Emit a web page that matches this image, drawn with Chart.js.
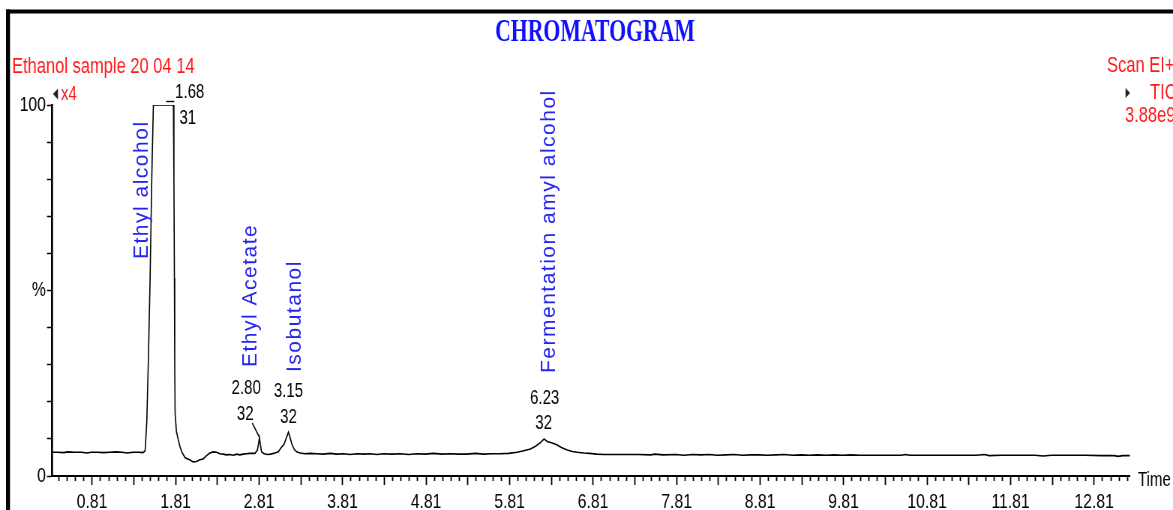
<!DOCTYPE html>
<html>
<head>
<meta charset="utf-8">
<script src="https://cdn.jsdelivr.net/npm/chart.js@4.4.1/dist/chart.umd.min.js"></script>
<style>
  html, body { margin: 0; padding: 0; background: #fff; }
  canvas { display: block; }
</style>
</head>
<body>
<canvas id="c"></canvas>
<script>
// ---------------- DATA ----------------
const retentionTimes = [
  0.33, 0.40, 0.47, 0.52, 0.60, 0.68, 0.75, 0.80, 0.88, 0.95, 1.02, 1.10, 1.17, 1.23, 1.30, 1.37, 1.42,
  1.445, 1.465, 1.485, 1.505, 1.525, 1.544, 1.60, 1.66, 1.72, 1.784, 1.790, 1.796, 1.800, 1.804, 1.82,
  1.843, 1.864, 1.884, 1.924, 1.984, 2.02, 2.06, 2.10, 2.14, 2.18, 2.22, 2.26, 2.30, 2.34, 2.38, 2.42,
  2.46, 2.50, 2.54, 2.58, 2.62, 2.66, 2.70, 2.76, 2.79, 2.805, 2.814, 2.825, 2.84, 2.87, 2.91, 2.95,
  3.00, 3.04, 3.08, 3.11, 3.14, 3.161, 3.18, 3.20, 3.23, 3.26, 3.30, 3.36, 3.42, 3.50, 3.58, 3.66,
  3.74, 3.82, 3.90, 3.98, 4.06, 4.14, 4.22, 4.30, 4.40, 4.50, 4.60, 4.70, 4.80, 4.90, 5.00, 5.10,
  5.20, 5.30, 5.40, 5.50, 5.60, 5.70, 5.80, 5.90, 5.98, 6.06, 6.12, 6.18, 6.223, 6.26, 6.32, 6.375,
  6.43, 6.50, 6.56, 6.62, 6.70, 6.77, 6.85, 6.95, 7.05, 7.20, 7.35, 7.50, 7.55, 7.65, 7.80, 7.90,
  8.00, 8.10, 8.20, 8.30, 8.40, 8.50, 8.60, 8.70, 8.80, 8.90, 9.00, 9.10, 9.20, 9.30, 9.40, 9.50,
  9.60, 9.70, 9.80, 9.90, 10.00, 10.10, 10.20, 10.30, 10.40, 10.50, 10.55, 10.60, 10.80, 11.00, 11.20, 11.40,
  11.50, 11.55, 11.70, 11.90, 12.10, 12.20, 12.30, 12.50, 12.70, 12.90, 13.05, 13.10, 13.15, 13.24
];
const relativeAbundance = [
  6.4, 6.4, 6.3, 6.5, 6.4, 6.4, 6.2, 6.4, 6.4, 6.3, 6.4, 6.5, 6.4, 6.2, 6.4, 6.4, 6.3,
  6.8, 14.6, 32.0, 53.4, 80.3, 100, 100, 100, 100, 100, 80.0, 53.4, 30.0, 17.0, 12.0,
  9.7, 7.8, 6.5, 4.9, 4.3, 3.8, 3.9, 4.4, 4.6, 5.5, 6.2, 6.5, 6.4, 6.0, 5.9, 5.7,
  5.8, 5.6, 5.9, 5.7, 5.9, 6.0, 6.1, 6.1, 7.0, 9.0, 10.3, 8.5, 6.5, 6.0, 5.8, 5.9,
  6.2, 6.5, 7.8, 8.6, 10.5, 11.8, 10.5, 8.8, 7.2, 6.5, 6.2, 6.0, 6.1, 6.0, 5.9, 6.1,
  5.9, 6.0, 5.8, 6.0, 5.9, 6.0, 5.8, 6.0, 5.9, 6.0, 5.8, 6.0, 5.9, 6.1, 5.9, 6.0,
  5.9, 5.9, 6.1, 5.9, 6.0, 6.0, 6.1, 6.4, 6.8, 7.3, 8.0, 9.0, 10.0, 9.3, 8.9, 8.4,
  7.7, 7.0, 6.6, 6.4, 6.2, 6.1, 5.9, 5.8, 5.8, 5.8, 5.8, 5.7, 5.9, 5.7, 5.8, 5.6,
  5.8, 5.7, 5.8, 5.6, 5.7, 5.8, 5.6, 5.7, 5.7, 5.6, 5.7, 5.8, 5.6, 5.7, 5.6, 5.7,
  5.6, 5.7, 5.6, 5.7, 5.6, 5.6, 5.6, 5.6, 5.6, 5.6, 5.8, 5.6, 5.6, 5.6, 5.6, 5.6,
  5.8, 5.5, 5.6, 5.6, 5.6, 5.4, 5.6, 5.6, 5.6, 5.5, 5.5, 5.3, 5.5, 5.5
];
const xTickLabels = ['0.81','1.81','2.81','3.81','4.81','5.81','6.81','7.81','8.81','9.81','10.81','11.81','12.81'];
const yTickLabels = { 0: '0', 50: '%', 100: '100' };
const peakTimes = [1.68, 2.80, 3.15, 6.23];
const peakTimeLabels = ['1.68', '2.80', '3.15', '6.23'];
const peakScanLabels = ['31', '32', '32', '32'];
const compoundNames = ['Ethyl alcohol', 'Ethyl Acetate', 'Isobutanol', 'Fermentation amyl alcohol'];

// ---------------- LAYOUT (final pixel units) ----------------
const SX = 0.75;                 // horizontal condensing of the whole drawing
const W = Math.round(1173 / SX); // internal canvas width
const H = 510;
const PLOT = { left: 52, right: 1130, top: 105, bottom: 476 };
const X_MIN = 0.33, X_MAX = 13.24;
const PEAK_TEXT_LAYOUT = [
  { dx: 25, y1: 92, dx2: 23, y2: 118 },
  { dx: -12, y1: 388, dx2: -13, y2: 414 },
  { dx: 1, y1: 391, dx2: 1, y2: 417 },
  { dx: 0, y1: 398, dx2: -1, y2: 423 }
];
const NAME_LAYOUT = [
  { t: 1.48, bottom: 259 },
  { t: 2.78, bottom: 367 },
  { t: 3.31, bottom: 372 },
  { t: 6.35, bottom: 373 }
];
const SANS = '"Liberation Sans", Arial, Helvetica, sans-serif';
const BLUE = '#2525ee';
const RED = '#ff1a1a';

const canvas = document.getElementById('c');
canvas.width = W; canvas.height = H;
canvas.style.width = '1173px'; canvas.style.height = H + 'px';

const F = v => v / SX; // final x -> canvas x

const decorPlugin = {
  id: 'decor',
  afterDraw(chart) {
    const ctx = chart.ctx;
    const xs = chart.scales.x;
    const X = t => xs.getPixelForValue(t);
    ctx.save();
    // frame
    ctx.fillStyle = '#000';
    ctx.fillRect(F(6), 9.5, F(4), H);
    ctx.fillRect(F(6), 9.5, W, 4);

    // title
    ctx.save();
    ctx.font = 'bold 29px "Liberation Serif", "Times New Roman", serif';
    ctx.fillStyle = '#1010ff';
    ctx.textAlign = 'center';
    ctx.textBaseline = 'middle';
    ctx.translate(F(595), 33);
    ctx.scale(1, 1.12);
    ctx.fillText('CHROMATOGRAM', 0, 0);
    ctx.restore();

    // red header texts
    ctx.fillStyle = RED;
    ctx.textBaseline = 'middle';
    ctx.textAlign = 'left';
    ctx.font = '22px ' + SANS;
    ctx.fillText('Ethanol sample 20 04 14', F(12), 67);
    ctx.fillText('Scan EI+', F(1107), 66);
    ctx.fillText('TIC', F(1150), 93);
    ctx.fillText('3.88e9', F(1125), 116);
    ctx.font = '20px ' + SANS;
    ctx.fillText('x4', F(61), 94);

    // small triangles
    ctx.fillStyle = '#222';
    ctx.beginPath();
    ctx.moveTo(F(53), 94); ctx.lineTo(F(58), 88.5); ctx.lineTo(F(58), 99.5); ctx.closePath(); ctx.fill();
    ctx.beginPath();
    ctx.moveTo(F(1130), 93); ctx.lineTo(F(1125.5), 88); ctx.lineTo(F(1125.5), 98); ctx.closePath(); ctx.fill();

    // "Time"
    ctx.fillStyle = '#000';
    ctx.font = '20px ' + SANS;
    ctx.fillText('Time', F(1138), 480);

    // peak labels
    ctx.textAlign = 'center';
    ctx.font = '20px ' + SANS;
    peakTimes.forEach((t, i) => {
      const L = PEAK_TEXT_LAYOUT[i];
      const px = X(t);
      ctx.fillText(peakTimeLabels[i], px + F(L.dx), L.y1);
      ctx.fillText(peakScanLabels[i], px + F(L.dx2), L.y2);
    });
    // leader marks
    ctx.strokeStyle = '#000';
    ctx.lineWidth = 1.4;
    const p0 = X(peakTimes[0]);
    ctx.beginPath(); ctx.moveTo(p0 + F(1.5), 101.5); ctx.lineTo(p0 + F(9.5), 101.5); ctx.stroke();
    const p1 = X(peakTimes[1]);
    ctx.beginPath(); ctx.moveTo(p1 - F(6), 423); ctx.lineTo(p1 + F(1), 437); ctx.stroke();

    // compound names (vertical, not condensed)
    ctx.fillStyle = BLUE;
    ctx.font = '21px ' + SANS;
    ctx.textAlign = 'left';
    ctx.textBaseline = 'alphabetic';
    try { ctx.letterSpacing = '1.5px'; } catch (e) {}
    compoundNames.forEach((name, i) => {
      const L = NAME_LAYOUT[i];
      ctx.save();
      ctx.translate(X(L.t), L.bottom);
      ctx.scale(1 / SX, 1);
      ctx.rotate(-Math.PI / 2);
      ctx.fillText(name, 0, 0);
      ctx.restore();
    });
    try { ctx.letterSpacing = '0px'; } catch (e) {}
    ctx.restore();
  }
};

const points = retentionTimes.map((t, i) => ({ x: t, y: relativeAbundance[i] }));

new Chart(canvas, {
  type: 'line',
  data: {
    datasets: [{
      data: points,
      borderColor: '#000',
      borderWidth: 1.6,
      pointRadius: 0,
      tension: 0,
      fill: false
    }]
  },
  options: {
    responsive: false,
    animation: false,
    devicePixelRatio: 1,
    layout: { padding: { left: 0, top: PLOT.top, right: W - F(PLOT.right), bottom: 0 } },
    plugins: { legend: { display: false }, title: { display: false }, tooltip: { enabled: false } },
    scales: {
      x: {
        type: 'linear',
        min: X_MIN, max: X_MAX,
        afterFit(s) { s.height = H - PLOT.bottom; },
        afterBuildTicks(s) {
          const ticks = [];
          for (let k = 1; ; k++) {
            const v = Math.round((0.31 + 0.1 * k) * 100) / 100;
            if (v > X_MAX) break;
            ticks.push({ value: v });
          }
          s.ticks = ticks;
        },
        border: { display: true, color: '#000', width: 2 },
        grid: {
          drawOnChartArea: false,
          drawTicks: true,
          tickLength: 9,
          tickColor: '#000',
          tickWidth: 1.8,
          tickBorderDash: (c) => {
            const v = c.tick ? c.tick.value : 0;
            const k = Math.round((v - 0.31) * 10);
            return (k % 5 === 0) ? [] : [4, 30];
          }
        },
        ticks: {
          autoSkip: false,
          maxRotation: 0,
          padding: 5,
          color: '#000',
          font: { family: SANS, size: 21 },
          callback: (v) => {
            const s = Number(v).toFixed(2);
            return xTickLabels.includes(s) ? s : '';
          }
        }
      },
      y: {
        min: 0, max: 100,
        afterFit(s) { s.width = F(PLOT.left); },
        border: { display: true, color: '#000', width: 2.7 },
        grid: {
          drawOnChartArea: false,
          tickLength: F(5),
          tickColor: '#000',
          tickWidth: 1.5
        },
        ticks: {
          stepSize: 10,
          padding: 1.5,
          color: '#000',
          font: { family: SANS, size: 21 },
          callback: (v) => (yTickLabels[v] !== undefined ? yTickLabels[v] : '')
        }
      }
    }
  },
  plugins: [decorPlugin]
});
</script>
</body>
</html>
